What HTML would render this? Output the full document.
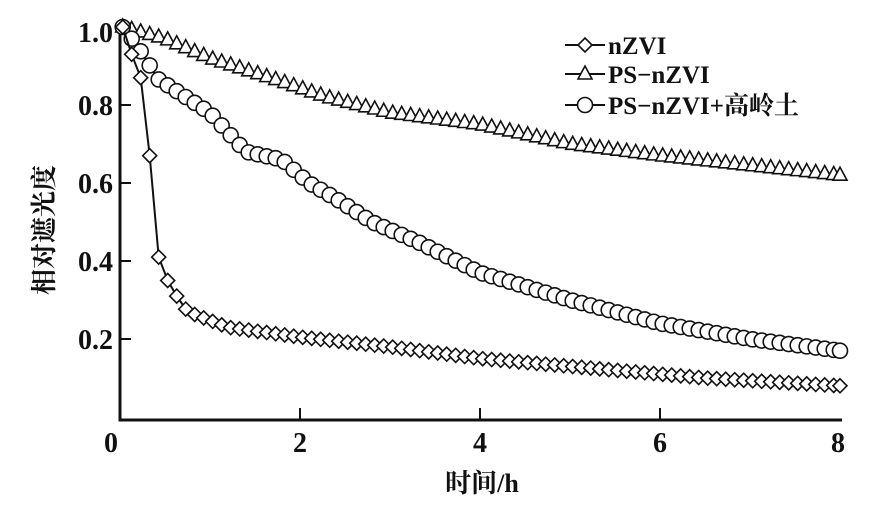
<!DOCTYPE html>
<html><head><meta charset="utf-8"><style>
html,body{margin:0;padding:0;background:#fff;}
svg text{font-family:"Liberation Serif","Noto Serif CJK SC",serif;font-weight:bold;fill:#111;}
</style></head><body>
<svg id="s" width="883" height="511" xmlns="http://www.w3.org/2000/svg">
<g stroke="#111" stroke-width="3" fill="none">
<line x1="120" y1="30" x2="120" y2="421"/>
<line x1="118.5" y1="420" x2="842" y2="420"/>
</g>
<g stroke="#111" stroke-width="2">
<line x1="120" y1="339" x2="131" y2="339"/><line x1="120" y1="261" x2="131" y2="261"/>
<line x1="120" y1="183" x2="131" y2="183"/><line x1="120" y1="105" x2="131" y2="105"/>
<line x1="300" y1="420" x2="300" y2="408"/><line x1="480" y1="420" x2="480" y2="408"/>
<line x1="660" y1="420" x2="660" y2="408"/>
</g>
<g font-size="28" text-anchor="end">
<text x="113" y="42">1.0</text><text x="113" y="115">0.8</text><text x="113" y="193">0.6</text>
<text x="113" y="271">0.4</text><text x="113" y="349">0.2</text>
</g>
<g font-size="28" text-anchor="middle">
<text x="111" y="452">0</text><text x="300" y="452">2</text><text x="480" y="452">4</text>
<text x="660" y="452">6</text><text x="838" y="452">8</text>
<text x="482" y="492" font-size="26">时间/h</text>
</g>
<text font-size="26" text-anchor="middle" transform="translate(53,230) rotate(-90)">相对遮光度</text>
<g id="d"></g>
<g font-size="25">
<text x="608" y="54">nZVI</text><text x="608" y="83">PS−nZVI</text><text x="608" y="114">PS−nZVI+高岭土</text>
</g>
</svg>
<script>
const X=t=>120+90*t, Y=v=>417-390*v;
function interp(p,t){for(let i=0;i<p.length-1;i++){if(t<=p[i+1][0]+1e-9){const a=p[i],b=p[i+1];return a[1]+(b[1]-a[1])*(t-a[0])/(b[0]-a[0]);}}return p[p.length-1][1];}
const A=[[0.03,1.0],[0.13,0.93],[0.23,0.87],[0.33,0.67],[0.43,0.41],[0.53,0.35],[0.63,0.31],[0.75,0.27],[1.2,0.23],[2,0.205],[3,0.18],[4,0.15],[5,0.13],[6.5,0.1],[8,0.08]];
const B=[[0.03,1.0],[0.5,0.97],[1,0.92],[1.8,0.86],[2.3,0.82],[3,0.78],[4,0.75],[5,0.7],[6,0.67],[8,0.62]];
const C=[[0.03,1.0],[0.13,0.97],[0.3,0.915],[0.4,0.87],[0.6,0.84],[1,0.78],[1.4,0.68],[1.8,0.66],[2.1,0.6],[2.4,0.56],[2.8,0.5],[3.3,0.45],[4,0.37],[5,0.3],[6,0.24],[7,0.2],[8,0.17]];
let h='';
function series(p,step,mk){let pts=[];for(let t=p[0][0];t<=8.03;t+=step)pts.push([X(Math.min(t,8)),Y(interp(p,t))]);
h+='<polyline fill="none" stroke="#111" stroke-width="2" points="'+pts.map(q=>q.join(',')).join(' ')+'"/>';
pts.forEach(q=>h+=mk(q[0],q[1]));}
const dia=(x,y)=>`<polygon points="${x},${y-7} ${x+7},${y} ${x},${y+7} ${x-7},${y}" fill="#fff" stroke="#111" stroke-width="1.6"/>`;
const tri=(x,y)=>`<polygon points="${x},${y-8} ${x+7},${y+5} ${x-7},${y+5}" fill="#fff" stroke="#111" stroke-width="1.6"/>`;
const cir=(x,y)=>`<circle cx="${x}" cy="${y}" r="7.5" fill="#fff" stroke="#111" stroke-width="1.6"/>`;
series(B,0.1,tri);series(C,0.1,cir);series(A,0.1,dia);
[[45,dia],[74,tri],[105,cir]].forEach(([y,m])=>{h+=`<line x1="565" y1="${y}" x2="605" y2="${y}" stroke="#111" stroke-width="2"/>`+m(585,y);});
document.getElementById('d').innerHTML=h;
</script>
</body></html>
